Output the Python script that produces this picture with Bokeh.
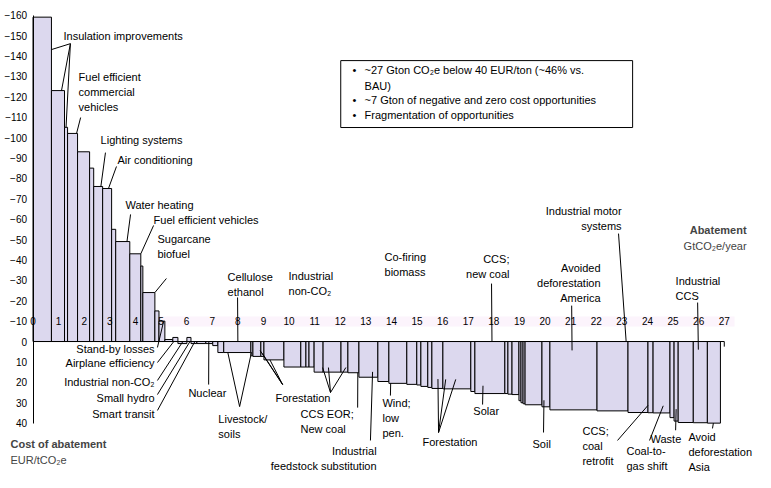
import numpy as np
from bokeh.plotting import figure
from bokeh.models import ColumnDataSource, Range1d, FixedTicker, Label
from bokeh.embed import file_html
from bokeh.resources import INLINE
from bokeh.core.properties import value

# ---- data: abatement width (GtCO2e/year) and cost (EUR/tCO2e) per lever ----
widths = [0.72, 0.51, 0.12, 0.39, 0.47, 0.16, 0.35, 0.35, 0.16, 0.55,
          0.43, 0.08, 0.47, 0.16, 0.23, 0.31, 0.20, 0.35, 0.16, 0.23,
          0.35, 0.27, 0.20, 0.23, 1.06, 0.08, 0.31, 0.12, 0.78, 0.66,
          0.20, 0.12, 0.20, 0.35, 0.70, 0.27, 0.43, 0.74, 0.43, 0.70,
          0.39, 0.16, 0.27, 0.16, 0.43, 1.09, 0.16, 1.17, 0.12, 0.16,
          0.27, 0.08, 0.08, 0.08, 0.66, 0.31, 1.84, 1.21, 0.78, 0.20,
          0.66, 0.16, 0.16, 0.59, 0.55, 0.51]
costs = [-159, -123, -105, -102, -93, -85, -76, -75, -55, -49,
         -43, -37, -24, -15, -10, -1, -2, 1, -2, 1,
         1, 1, 2, 5.4, 5.4, 7, 7.3, 7.3, 9, 12.5,
         12.5, 12.5, 12.5, 15, 15, 15, 15.3, 17.5, 19.6, 20.5,
         21, 21.3, 22, 22.5, 23, 23.2, 24.5, 25.5, 25.5, 25.8,
         26, 29, 30, 30.5, 31, 32, 33.5, 34, 34.8, 34.9,
         35, 37.3, 39, 39.7, 39.8, 40]
x_ticks = list(range(0, 28))
y_ticks = list(range(-160, 50, 10))

legend_lines = ["~27 Gton CO\u2082e below 40 EUR/ton (~46% vs.", "BAU)",
                "~7 Gton of negative and zero cost opportunities",
                "Fragmentation of opportunities"]
legend_bullets = [True, False, True, True]

# labels: text, x, y(top), align
labels = [
    ("Insulation improvements", 1.19, -152.5, "left"),
    ("Fuel efficient\ncommercial\nvehicles", 1.78, -132.4, "left"),
    ("Lighting systems", 2.64, -101.5, "left"),
    ("Air conditioning", 3.30, -91.7, "left"),
    ("Water heating", 3.61, -70.1, "left"),
    ("Fuel efficient vehicles", 4.71, -62.7, "left"),
    ("Sugarcane\nbiofuel", 4.86, -53.4, "left"),
    ("Nuclear", 6.07, 22.5, "left"),
    ("Livestock/\nsoils", 7.24, 34.8, "left"),
    ("Forestation", 9.47, 24.5, "left"),
    ("Cellulose\nethanol", 7.60, -34.8, "left"),
    ("Industrial\nnon-CO\u2082", 9.98, -35.3, "left"),
    ("Co-firing\nbiomass", 13.73, -44.6, "left"),
    ("CCS EOR;\nNew coal", 10.45, 32.4, "left"),
    ("Wind;\nlow\npen.", 13.65, 27.0, "left"),
    ("Forestation", 15.21, 46.1, "left"),
    ("Solar", 17.20, 30.9, "left"),
    ("Soil", 19.51, 47.1, "left"),
    ("CCS;\ncoal\nretrofit", 21.46, 40.7, "left"),
    ("Coal-to-\ngas shift", 23.18, 50.5, "left"),
    ("Waste", 24.12, 44.6, "left"),
    ("Avoid\ndeforestation\nAsia", 25.60, 44.1, "left"),
    ("Industrial\nCCS", 25.10, -32.4, "left"),
    ("Stand-by losses", 4.75, 0.5, "right"),
    ("Airplane efficiency", 4.75, 7.8, "right"),
    ("Industrial non-CO\u2082", 4.75, 16.7, "right"),
    ("Small hydro", 4.75, 24.5, "right"),
    ("Smart transit", 4.75, 32.4, "right"),
    ("Industrial\nfeedstock substitution", 13.42, 50.5, "right"),
    ("CCS;\nnew coal", 18.61, -43.6, "right"),
    ("Avoided\ndeforestation\nAmerica", 22.17, -39.2, "right"),
    ("Industrial motor\nsystems", 22.99, -66.7, "right"),
]

# leader lines: start x, start y, bar index, fraction across bar, fraction of bar cost
leaders = [
    (1.46, -146, 0, 1.0, 0.9), (1.46, -146, 1, 0.77, 1.0), (1.46, -146, 2, 0.5, 1.0),
    (1.86, -109.8, 3, 0.9, 1.0),
    (2.83, -92.6, 6, 0.8, 1.0),
    (3.26, -85.8, 7, 0.65, 1.0),
    (3.81, -62.3, 9, 0.8, 1.0),
    (4.71, -56.9, 10, 1.0, 1.0),
    (5.21, -30.9, 12, 1.0, 1.0),
    (4.86, 2.9, 14, 0.8, 1.0),
    (4.86, 10.3, 16, 0.2, 0.0),
    (4.86, 19.1, 17, 0.55, 0.0),
    (4.86, 26.0, 18, 0.75, 0.0),
    (4.86, 33.8, 19, 0.66, 0.0),
    (6.86, 21.1, 21, 0.43, 0.0),
    (8.07, 31.9, 24, 0.15, 1.0), (8.07, 31.9, 25, 0.3, 0.75),
    (7.99, -21.6, 24, 0.52, 0.0),
    (9.75, 21.1, 26, 0.9, 0.6), (9.75, 21.1, 27, 0.5, 0.8), (9.75, 21.1, 28, 0.3, 1.0),
    (11.62, 25.0, 33, 0.95, 0.85), (11.62, 25.0, 34, 0.3, 0.85), (11.62, 25.0, 35, 0.7, 0.85),
    (12.68, 32.4, 36, 0.9, 1.0),
    (13.18, 48.5, 37, 0.72, 0.85),
    (13.96, 26.5, 39, 0.1, 1.0),
    (15.84, 44.6, 44, 0.55, 0.8), (15.84, 44.6, 45, 0.1, 0.8), (15.84, 44.6, 45, 0.46, 0.8),
    (17.56, 30.9, 47, 0.27, 0.85),
    (19.94, 44.6, 55, 0.25, 0.9),
    (22.83, 48.5, 58, 1.0, 0.9),
    (24.08, 48.5, 60, 0.6, 0.9),
    (25.10, 43.5, 62, 0.5, 0.85),
    (26.54, 42.6, 65, 0.46, 1.0),
    (17.91, -28.4, 47, 0.57, 0.0),
    (21.04, -17.6, 56, 0.47, 0.13),
    (22.87, -52.9, 57, 0.94, 0.0),
    (25.96, -19.1, 64, 0.36, 0.1),
]

FONT = "Liberation Sans"

w = np.array(widths)
rights = np.cumsum(w)
lefts = rights - w

p = figure(width=755, height=472, output_backend="svg", toolbar_location=None,
           x_range=Range1d(-1.27, 28.22), y_range=Range1d(64.2, -167.16),
           x_axis_type=None, min_border_left=0, min_border_right=0,
           min_border_top=0, min_border_bottom=0)
p.outline_line_color = None
p.grid.visible = False
p.background_fill_color = "white"
p.border_fill_color = "white"

ya = p.yaxis[0]
ya.fixed_location = 0
ya.ticker = FixedTicker(ticks=y_ticks)
ya.bounds = (-160, 40)
ya.major_tick_out = 0
ya.major_tick_in = 0
ya.minor_tick_out = 0
ya.minor_tick_in = 0
ya.major_label_standoff = 6
ya.major_label_text_font = FONT
ya.major_label_text_font_size = "10px"
ya.major_label_text_color = "black"
ya.axis_line_color = "black"

# light band behind the abatement tick labels
p.quad(left=[x_ticks[0]], right=[x_ticks[-1] + 0.4], top=[-12.3], bottom=[-7.4],
       fill_color="#fcf4fc", line_color=None)

bars = ColumnDataSource(dict(left=lefts, right=rights, bottom=costs, top=[0] * len(costs)))
p.quad(left="left", right="right", bottom="bottom", top="top", source=bars,
       fill_color="#dcd8ee", line_color="black", line_width=1)

# zero line and end tick
p.segment(x0=[0, x_ticks[-1]], y0=[0, 0], x1=[x_ticks[-1], x_ticks[-1]], y1=[0, 2.5],
          line_color="black", line_width=1)

# x tick labels
p.text(x=x_ticks, y=[-10] * len(x_ticks), text=[str(t) for t in x_ticks],
       text_font=value(FONT), text_font_size="10px", text_align="center",
       text_baseline="middle", text_color="black")

# leader lines
lx0, ly0, lx1, ly1 = [], [], [], []
for sx, sy, i, xf, yf in leaders:
    lx0.append(sx); ly0.append(sy)
    lx1.append(lefts[i] + xf * widths[i]); ly1.append(costs[i] * yf)
p.segment(x0=lx0, y0=ly0, x1=lx1, y1=ly1, line_color="black", line_width=1)

for align in ("left", "right"):
    sel = [l for l in labels if l[3] == align]
    p.text(x=[l[1] for l in sel], y=[l[2] for l in sel], text=[l[0] for l in sel],
           text_font=value(FONT), text_font_size="11px", text_align=align,
           text_baseline="top", text_line_height=1.25, text_color="black")

# legend box (drawn as a glyph so the texts lie on top of it)
p.quad(left=[12.02], right=[23.42], top=[-137.7], bottom=[-104.9],
       fill_color="white", line_color="black", line_width=1)
ly = [-135.8, -128.4, -121.1, -114.2]
p.text(x=[12.95] * 4, y=ly, text=legend_lines, text_font=value(FONT), text_font_size="11px",
       text_baseline="top", text_color="black")
p.text(x=[12.48] * 3, y=[ly[i] for i in range(4) if legend_bullets[i]], text=["\u2022"] * 3,
       text_font=value(FONT), text_font_size="11px", text_baseline="top", text_color="black")

# axis titles
p.add_layout(Label(x=27.87, y=-57.5, text="Abatement", text_font=FONT, text_font_size="11px",
                   text_font_style="bold", text_align="right", text_baseline="top"))
p.add_layout(Label(x=27.87, y=-50.0, text="GtCO\u2082e/year", text_font=FONT, text_font_size="11px",
                   text_align="right", text_baseline="top"))
p.add_layout(Label(x=-0.88, y=47.5, text="Cost of abatement", text_font=FONT, text_font_size="11px",
                   text_font_style="bold", text_align="left", text_baseline="top"))
p.add_layout(Label(x=-0.88, y=55.0, text="EUR/tCO\u2082e", text_font=FONT, text_font_size="11px",
                   text_align="left", text_baseline="top"))

open("out.html", "w").write(file_html(p, INLINE))
